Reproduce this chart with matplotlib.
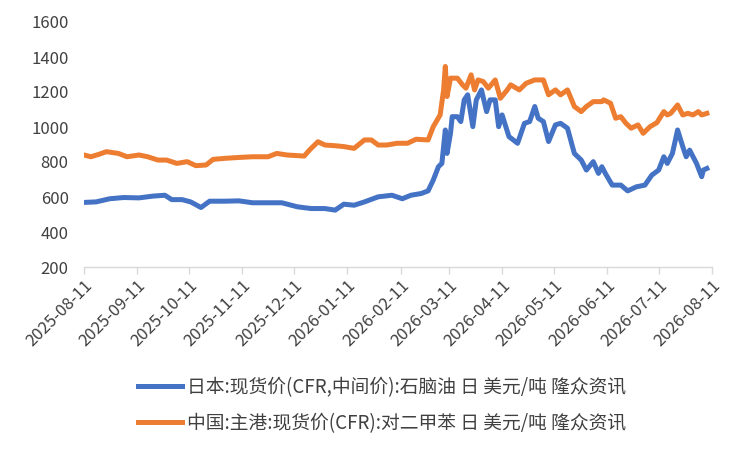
import matplotlib
matplotlib.use("Agg")
import matplotlib.pyplot as plt
import matplotlib.dates as mdates
import pandas as pd

plt.rcParams['font.family'] = ['Liberation Sans Narrow', 'Noto Sans CJK SC', 'DejaVu Sans']

naphtha_dates = ["2025-08-11","2025-08-18","2025-08-26","2025-09-03","2025-09-12","2025-09-20","2025-09-27",
    "2025-10-01","2025-10-07","2025-10-12","2025-10-18","2025-10-23","2025-11-01","2025-11-09","2025-11-17",
    "2025-11-26","2025-12-04","2025-12-13","2025-12-21","2025-12-29","2026-01-04","2026-01-09","2026-01-15",
    "2026-01-21","2026-01-29","2026-02-06","2026-02-12","2026-02-17","2026-02-23","2026-02-27","2026-03-02",
    "2026-03-05","2026-03-07","2026-03-09","2026-03-10","2026-03-12","2026-03-13","2026-03-16","2026-03-18",
    "2026-03-20","2026-03-22","2026-03-25","2026-03-27","2026-03-30","2026-04-02","2026-04-04","2026-04-07",
    "2026-04-09","2026-04-11","2026-04-15","2026-04-20","2026-04-24","2026-04-27","2026-04-30","2026-05-02",
    "2026-05-05","2026-05-08","2026-05-12","2026-05-15","2026-05-19","2026-05-23","2026-05-27","2026-05-30",
    "2026-06-03","2026-06-06","2026-06-08","2026-06-10","2026-06-14","2026-06-19","2026-06-23","2026-06-28",
    "2026-07-03","2026-07-07","2026-07-11","2026-07-14","2026-07-16","2026-07-19","2026-07-22","2026-07-25",
    "2026-07-27","2026-07-29","2026-08-02","2026-08-05","2026-08-06","2026-08-08"]
naphtha_values = [569,572,590,597,595,605,610,
    585,585,572,540,576,576,578,567,
    567,567,544,534,534,525,559,553,
    572,601,610,590,610,620,635,697,
    773,792,983,849,964,1059,1059,1031,
    1155,1184,1002,1155,1212,1088,1155,1155,
    1002,1069,945,907,1021,1031,1117,1050,
    1031,917,1012,1021,993,849,811,754,
    802,735,773,735,668,668,635,658,
    668,725,754,830,792,849,983,888,
    830,868,792,716,754,763]

px_dates = ["2025-08-11","2025-08-15","2025-08-20","2025-08-24","2025-08-31","2025-09-05","2025-09-12",
    "2025-09-17","2025-09-23","2025-09-28","2025-10-04","2025-10-10","2025-10-15","2025-10-21","2025-10-25",
    "2025-11-01","2025-11-09","2025-11-17","2025-11-26","2025-12-01","2025-12-07","2025-12-17","2025-12-20",
    "2025-12-25","2025-12-29","2026-01-04","2026-01-09","2026-01-15","2026-01-21","2026-01-25","2026-01-29",
    "2026-02-03","2026-02-09","2026-02-15","2026-02-20","2026-02-27","2026-03-02","2026-03-06","2026-03-08",
    "2026-03-09","2026-03-10","2026-03-12","2026-03-16","2026-03-19","2026-03-21","2026-03-24","2026-03-26",
    "2026-03-28","2026-03-31","2026-04-03","2026-04-07","2026-04-10","2026-04-14","2026-04-16","2026-04-21",
    "2026-04-25","2026-04-30","2026-05-05","2026-05-08","2026-05-12","2026-05-15","2026-05-19","2026-05-23",
    "2026-05-27","2026-05-30","2026-06-03","2026-06-08","2026-06-09","2026-06-13","2026-06-16","2026-06-19",
    "2026-06-22","2026-06-25","2026-06-29","2026-07-02","2026-07-06","2026-07-10","2026-07-14","2026-07-16",
    "2026-07-18","2026-07-22","2026-07-25","2026-07-28","2026-07-31","2026-08-03","2026-08-05","2026-08-08"]
px_values = [840,830,845,859,849,830,840,
    830,811,811,792,802,779,783,815,
    821,826,830,830,849,840,834,868,
    916,897,893,888,878,926,926,897,
    897,907,907,930,926,1002,1069,1212,
    1346,1174,1279,1279,1241,1222,1298,1212,
    1269,1260,1222,1269,1164,1212,1241,1212,
    1250,1269,1269,1184,1212,1184,1212,1117,
    1088,1117,1145,1145,1155,1136,1050,1059,
    1021,993,1012,964,1002,1025,1088,1069,
    1078,1126,1069,1078,1069,1088,1069,1078]

labels = ["日本:现货价(CFR,中间价):石脑油 日 美元/吨 隆众资讯",
          "中国:主港:现货价(CFR):对二甲苯 日 美元/吨 隆众资讯"]
tick_dates = pd.date_range("2025-08-01", "2026-08-01", freq="MS") + pd.Timedelta(days=10)
yticks = [200, 400, 600, 800, 1000, 1200, 1400, 1600]

fig = plt.figure(figsize=(7.49, 4.50), dpi=100)
ax = fig.add_axes([84/749, 1-267/450, (712-84)/749, (267-22)/450])

ax.plot(pd.to_datetime(naphtha_dates), naphtha_values, color='#4472C4', lw=3.6,
        solid_joinstyle='round', label=labels[0])
ax.plot(pd.to_datetime(px_dates), px_values, color='#ED7D31', lw=3.6,
        solid_joinstyle='round', label=labels[1])

ax.set_ylim(200, 1600)
ax.set_yticks(yticks)
ax.set_xlim(pd.Timestamp("2025-08-11"), pd.Timestamp("2026-08-11"))
ax.set_xticks(tick_dates)
ax.xaxis.set_major_formatter(mdates.DateFormatter("%Y-%m-%d"))

for s in ['top', 'right', 'left']:
    ax.spines[s].set_visible(False)
ax.spines['bottom'].set_color('#D9D9D9')
ax.spines['bottom'].set_linewidth(1.0)

ax.tick_params(axis='y', length=0, pad=11, labelsize=12, labelcolor='#404040')
ax.tick_params(axis='x', length=5, width=1, color='#D9D9D9', labelsize=12,
               labelcolor='#404040', pad=2)
for lbl in ax.get_xticklabels():
    lbl.set_rotation(45)
    lbl.set_ha('right')
    lbl.set_va('top')
    lbl.set_rotation_mode('anchor')

leg = fig.legend(loc='center', bbox_to_anchor=(382/749, 1-405.5/450), ncol=1, frameon=False,
                 fontsize=13.5, handlelength=2.35, handletextpad=0.27, labelspacing=0.8)
for t in leg.get_texts():
    t.set_color('#404040')

fig.savefig("out.png", dpi=100)
